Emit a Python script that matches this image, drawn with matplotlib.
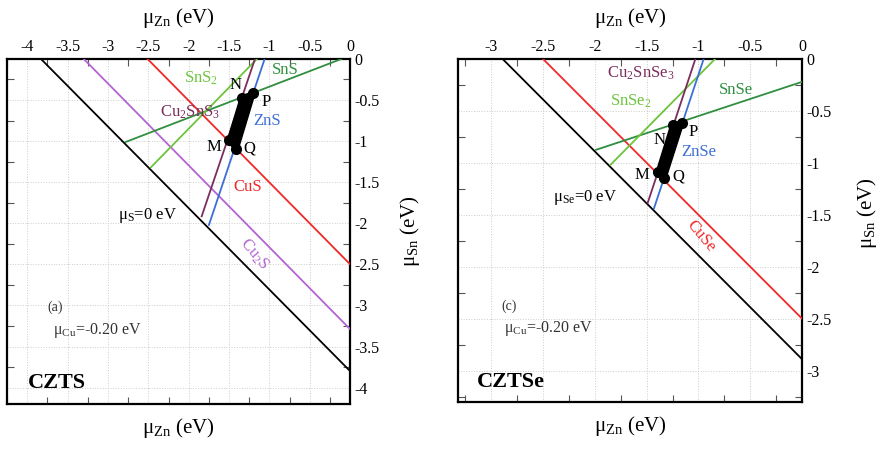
import numpy as np
import matplotlib
matplotlib.use('Agg')
import matplotlib.pyplot as plt
from matplotlib.ticker import MultipleLocator, FuncFormatter

plt.rcParams['font.family'] = ['Liberation Serif', 'DejaVu Serif']
plt.rcParams['mathtext.fontset'] = 'custom'
plt.rcParams['mathtext.rm'] = 'Liberation Serif'
plt.rcParams['mathtext.it'] = 'Liberation Serif:italic'
plt.rcParams['axes.unicode_minus'] = False

# 颜色
C_BLACK = 'black'
C_PURPLE = '#b464d2'
C_RED = '#f02828'
C_DKGREEN = '#2f8f3f'
C_LTGREEN = '#6cc43c'
C_MAROON = '#7a2e5e'
C_BLUE = '#3c6ed6'

# ---- CZTS (a) 面板数据：每条边界线的两个端点 (mu_Zn, mu_Sn) ----
czts_names = ['muS0', 'Cu2S', 'CuS', 'SnS', 'SnS2', 'Cu2SnS3', 'ZnS']
czts_x0 = [-3.83, -3.30, -2.51, -2.78, -2.47, -1.84, -1.75]
czts_y0 = [0.0, 0.0, 0.0, -1.01, -1.32, -1.915, -2.02]
czts_x1 = [0.0, 0.0, 0.0, -0.11, -1.155, -1.18, -1.06]
czts_y1 = [-3.80, -3.29, -2.50, 0.0, 0.0, 0.0, 0.0]
czts_colors = [C_BLACK, C_PURPLE, C_RED, C_DKGREEN, C_LTGREEN, C_MAROON, C_BLUE]
# 稳定区域顶点 N, P, Q, M
czts_poly_x = [-1.34, -1.20, -1.41, -1.50]
czts_poly_y = [-0.475, -0.415, -1.10, -0.99]

# ---- CZTSe (c) 面板数据 ----
cztse_names = ['muSe0', 'CuSe', 'SnSe', 'SnSe2', 'Cu2SnSe3', 'ZnSe']
cztse_x0 = [-2.89, -2.50, -1.99, -1.85, -1.49, -1.43]
cztse_y0 = [0.0, 0.0, -0.875, -1.02, -1.385, -1.44]
cztse_x1 = [0.0, 0.0, 0.0, -0.84, -1.03, -0.95]
cztse_y1 = [-2.89, -2.50, -0.22, 0.0, 0.0, 0.0]
cztse_colors = [C_BLACK, C_RED, C_DKGREEN, C_LTGREEN, C_MAROON, C_BLUE]
cztse_poly_x = [-1.25, -1.16, -1.33, -1.39]
cztse_poly_y = [-0.635, -0.615, -1.144, -1.087]

# 文字标注：(文本, x, y, 颜色, 旋转, 字号, 粗细)
czts_labels = [
    ('SnS$_2$', -1.85, -0.23, C_LTGREEN, 0, 12, 'normal'),
    ('N', -1.42, -0.32, 'black', 0, 12, 'normal'),
    ('P', -1.04, -0.52, 'black', 0, 12, 'normal'),
    ('SnS', -0.80, -0.13, C_DKGREEN, 0, 12, 'normal'),
    ('Cu$_2$SnS$_3$', -1.98, -0.65, C_MAROON, 0, 12, 'normal'),
    ('ZnS', -1.03, -0.76, C_BLUE, 0, 12, 'normal'),
    ('M', -1.69, -1.07, 'black', 0, 12, 'normal'),
    ('Q', -1.25, -1.09, 'black', 0, 12, 'normal'),
    ('CuS', -1.27, -1.56, C_RED, 0, 12, 'normal'),
    ('μ$_{\\rm S}$=0 eV', -2.51, -1.91, 'black', 0, 12, 'normal'),
    ('Cu$_2$S', -1.19, -2.37, C_PURPLE, -50, 12, 'normal'),
    ('(a)', -3.65, -3.02, '#333333', 0, 10, 'normal'),
    ('μ$_{\\rm Cu}$=-0.20 eV', -3.13, -3.30, '#333333', 0, 11.5, 'normal'),
    ('CZTS', -3.63, -3.94, 'black', 0, 16, 'bold'),
]
cztse_labels = [
    ('Cu$_2$SnSe$_3$', -1.56, -0.135, C_MAROON, 0, 12, 'normal'),
    ('SnSe$_2$', -1.65, -0.41, C_LTGREEN, 0, 12, 'normal'),
    ('SnSe', -0.64, -0.30, C_DKGREEN, 0, 12, 'normal'),
    ('N', -1.38, -0.78, 'black', 0, 12, 'normal'),
    ('P', -1.05, -0.70, 'black', 0, 12, 'normal'),
    ('ZnSe', -1.00, -0.90, C_BLUE, 0, 12, 'normal'),
    ('M', -1.55, -1.12, 'black', 0, 12, 'normal'),
    ('Q', -1.19, -1.13, 'black', 0, 12, 'normal'),
    ('μ$_{\\rm Se}$=0 eV', -2.09, -1.33, 'black', 0, 12, 'normal'),
    ('CuSe', -0.98, -1.71, C_RED, -50, 12, 'normal'),
    ('(c)', -2.83, -2.38, '#333333', 0, 10, 'normal'),
    ('μ$_{\\rm Cu}$=-0.20 eV', -2.45, -2.59, '#333333', 0, 11.5, 'normal'),
    ('CZTSe', -2.81, -3.11, 'black', 0, 16, 'bold'),
]


def draw_panel(ax, xlim, ylim, x0, y0, x1, y1, colors, px, py, labels, ylab_pos):
    for a, b, c, d, col in zip(x0, y0, x1, y1, colors):
        ax.plot([a, c], [b, d], color=col, lw=1.3, zorder=3)
    # 稳定区域（粗黑线 + 顶点圆点）
    xs = px + px[:1]
    ys = py + py[:1]
    ax.fill(px, py, color='black', zorder=4)
    ax.plot(xs, ys, color='black', lw=3.5, solid_joinstyle='round', zorder=4)
    ax.plot(px, py, 'o', color='black', ms=7, zorder=5)
    for t, x, y, col, rot, fs, fw in labels:
        ax.text(x, y, t, color=col, rotation=rot, fontsize=fs, fontweight=fw,
                ha='center', va='center', zorder=6)

    ax.set_xlim(*xlim)
    ax.set_ylim(*ylim)
    ax.xaxis.set_major_locator(MultipleLocator(0.5))
    ax.yaxis.set_major_locator(MultipleLocator(0.5))
    ax.xaxis.set_minor_locator(MultipleLocator(0.25))
    ax.yaxis.set_minor_locator(MultipleLocator(0.25))
    fmt = FuncFormatter(lambda v, p: f'{v:g}')
    ax.xaxis.set_major_formatter(fmt)
    ax.yaxis.set_major_formatter(fmt)
    ax.tick_params(which='both', direction='in', top=True, bottom=True, left=True, right=True,
                   labeltop=True, labelbottom=False, labelleft=False, labelright=True,
                   labelsize=11.5, pad=3)
    ax.tick_params(which='major', length=0)
    ax.tick_params(which='minor', length=5, width=0.8, color='#555555')
    ax.grid(True, which='major', ls=':', lw=0.7, color='#cccccc')
    for s in ax.spines.values():
        s.set_linewidth(1.6)

    ax.text(0.5, 1.12, 'μ$_{\\rm Zn}$ (eV)', transform=ax.transAxes, ha='center', va='center', fontsize=15)
    ax.text(0.5, -0.07, 'μ$_{\\rm Zn}$ (eV)', transform=ax.transAxes, ha='center', va='center', fontsize=15)
    ax.text(ylab_pos[0], ylab_pos[1], 'μ$_{\\rm Sn}$ (eV)', transform=ax.transAxes,
            ha='center', va='center', fontsize=15, rotation=90)


fig = plt.figure(figsize=(8.8, 4.5), dpi=100)
ax1 = fig.add_axes([0.008, 0.102, 0.39, 0.767])
ax2 = fig.add_axes([0.5205, 0.107, 0.391, 0.762])

draw_panel(ax1, (-4.25, 0), (-4.2, 0), czts_x0, czts_y0, czts_x1, czts_y1, czts_colors,
           czts_poly_x, czts_poly_y, czts_labels, (1.175, 0.5))
draw_panel(ax2, (-3.32, 0), (-3.3, 0), cztse_x0, cztse_y0, cztse_x1, cztse_y1, cztse_colors,
           cztse_poly_x, cztse_poly_y, cztse_labels, (1.19, 0.55))

fig.savefig('out.png', dpi=100)
plt.close(fig)
